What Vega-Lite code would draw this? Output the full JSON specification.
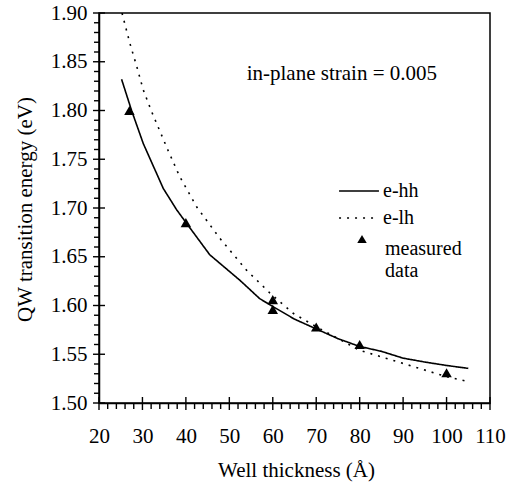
{
  "$schema": "https://vega.github.io/schema/vega-lite/v6.json",
  "width": 391,
  "height": 390,
  "autosize": {"type": "none"},
  "padding": {"left": 99, "top": 13, "right": 30, "bottom": 82},
  "background": "white",
  "config": {
    "view": {"stroke": "black", "strokeWidth": 1.5},
    "axis": {
      "domainColor": "black", "labelColor": "black", "titleColor": "black",
      "labelFont": "Liberation Serif", "titleFont": "Liberation Serif", "titleFontWeight": "normal",
      "labelFontSize": 21, "titleFontSize": 21, "grid": false, "domainWidth": 1.5
    },
    "legend": {"labelFont": "Liberation Serif", "labelColor": "black"},
    "text": {"font": "Liberation Serif"}
  },
  "datasets": {
    "curves": [
      {"series": "e-hh", "thickness": 25.2, "energy": 1.832},
      {"series": "e-hh", "thickness": 27.5, "energy": 1.800},
      {"series": "e-hh", "thickness": 30.2, "energy": 1.766},
      {"series": "e-hh", "thickness": 34.8, "energy": 1.720},
      {"series": "e-hh", "thickness": 37.9, "energy": 1.698},
      {"series": "e-hh", "thickness": 40.2, "energy": 1.684},
      {"series": "e-hh", "thickness": 45.5, "energy": 1.652},
      {"series": "e-hh", "thickness": 52.4, "energy": 1.626},
      {"series": "e-hh", "thickness": 57, "energy": 1.607},
      {"series": "e-hh", "thickness": 60, "energy": 1.599},
      {"series": "e-hh", "thickness": 65, "energy": 1.586},
      {"series": "e-hh", "thickness": 70, "energy": 1.576},
      {"series": "e-hh", "thickness": 75, "energy": 1.566},
      {"series": "e-hh", "thickness": 80, "energy": 1.558},
      {"series": "e-hh", "thickness": 85, "energy": 1.553},
      {"series": "e-hh", "thickness": 90, "energy": 1.546},
      {"series": "e-hh", "thickness": 95, "energy": 1.542},
      {"series": "e-hh", "thickness": 100, "energy": 1.5385},
      {"series": "e-hh", "thickness": 105, "energy": 1.5355},
      {"series": "e-lh", "thickness": 25.3, "energy": 1.900},
      {"series": "e-lh", "thickness": 27.1, "energy": 1.869},
      {"series": "e-lh", "thickness": 28.7, "energy": 1.845},
      {"series": "e-lh", "thickness": 30.2, "energy": 1.821},
      {"series": "e-lh", "thickness": 32.1, "energy": 1.799},
      {"series": "e-lh", "thickness": 34, "energy": 1.779},
      {"series": "e-lh", "thickness": 35.9, "energy": 1.759},
      {"series": "e-lh", "thickness": 38.6, "energy": 1.732},
      {"series": "e-lh", "thickness": 42.5, "energy": 1.701},
      {"series": "e-lh", "thickness": 47.8, "energy": 1.669},
      {"series": "e-lh", "thickness": 54, "energy": 1.636},
      {"series": "e-lh", "thickness": 59.3, "energy": 1.613},
      {"series": "e-lh", "thickness": 64.7, "energy": 1.592},
      {"series": "e-lh", "thickness": 69.3, "energy": 1.580},
      {"series": "e-lh", "thickness": 80, "energy": 1.554},
      {"series": "e-lh", "thickness": 86, "energy": 1.546},
      {"series": "e-lh", "thickness": 100, "energy": 1.527},
      {"series": "e-lh", "thickness": 105, "energy": 1.522}
    ],
    "measured": [
      {"kind": "measured data", "thickness": 27, "energy": 1.800},
      {"kind": "measured data", "thickness": 40, "energy": 1.685},
      {"kind": "measured data", "thickness": 60, "energy": 1.606},
      {"kind": "measured data", "thickness": 60, "energy": 1.596},
      {"kind": "measured data", "thickness": 70, "energy": 1.578},
      {"kind": "measured data", "thickness": 80, "energy": 1.560},
      {"kind": "measured data", "thickness": 100, "energy": 1.531}
    ],
    "xticks": [
      {"thickness": 20}, {"thickness": 22}, {"thickness": 24}, {"thickness": 26}, {"thickness": 28},
      {"thickness": 30}, {"thickness": 32}, {"thickness": 34}, {"thickness": 36}, {"thickness": 38},
      {"thickness": 40}, {"thickness": 42}, {"thickness": 44}, {"thickness": 46}, {"thickness": 48},
      {"thickness": 50}, {"thickness": 52}, {"thickness": 54}, {"thickness": 56}, {"thickness": 58},
      {"thickness": 60}, {"thickness": 62}, {"thickness": 64}, {"thickness": 66}, {"thickness": 68},
      {"thickness": 70}, {"thickness": 72}, {"thickness": 74}, {"thickness": 76}, {"thickness": 78},
      {"thickness": 80}, {"thickness": 82}, {"thickness": 84}, {"thickness": 86}, {"thickness": 88},
      {"thickness": 90}, {"thickness": 92}, {"thickness": 94}, {"thickness": 96}, {"thickness": 98},
      {"thickness": 100}, {"thickness": 102}, {"thickness": 104}, {"thickness": 106}, {"thickness": 108},
      {"thickness": 110}
    ],
    "yticks": [
      {"energy": 1.50}, {"energy": 1.51}, {"energy": 1.52}, {"energy": 1.53}, {"energy": 1.54},
      {"energy": 1.55}, {"energy": 1.56}, {"energy": 1.57}, {"energy": 1.58}, {"energy": 1.59},
      {"energy": 1.60}, {"energy": 1.61}, {"energy": 1.62}, {"energy": 1.63}, {"energy": 1.64},
      {"energy": 1.65}, {"energy": 1.66}, {"energy": 1.67}, {"energy": 1.68}, {"energy": 1.69},
      {"energy": 1.70}, {"energy": 1.71}, {"energy": 1.72}, {"energy": 1.73}, {"energy": 1.74},
      {"energy": 1.75}, {"energy": 1.76}, {"energy": 1.77}, {"energy": 1.78}, {"energy": 1.79},
      {"energy": 1.80}, {"energy": 1.81}, {"energy": 1.82}, {"energy": 1.83}, {"energy": 1.84},
      {"energy": 1.85}, {"energy": 1.86}, {"energy": 1.87}, {"energy": 1.88}, {"energy": 1.89},
      {"energy": 1.90}
    ]
  },
  "layer": [
    {
      "data": {"name": "curves"},
      "mark": {"type": "line", "color": "black", "strokeWidth": 1.6, "clip": true},
      "encoding": {
        "x": {
          "field": "thickness", "type": "quantitative",
          "scale": {"domain": [20, 110], "nice": false},
          "axis": {
            "orient": "bottom", "tickCount": 200,
            "values": [20,30,40,50,60,70,80,90,100,110],
            "format": "d",
            "ticks": false, "tickSize": 0, "labelPadding": 39, "labelBaseline": "alphabetic", "labelFlush": false, "labelOverlap": false,
            "title": "Well thickness (Å)", "titleX": 197, "titleY": 73, "titleBaseline": "alphabetic"
          }
        },
        "y": {
          "field": "energy", "type": "quantitative",
          "scale": {"domain": [1.5, 1.9], "nice": false},
          "axis": {
            "orient": "left", "tickCount": 200,
            "values": [1.5,1.55,1.6,1.65,1.7,1.75,1.8,1.85,1.9],
            "format": ".2f",
            "ticks": false, "tickSize": 0, "labelPadding": 12, "labelFlush": false, "labelOverlap": false,
            "title": "QW transition energy (eV)", "titleX": -74, "titleY": 196, "titleBaseline": "middle"
          }
        },
        "strokeDash": {
          "field": "series", "type": "nominal",
          "scale": {"domain": ["e-hh", "e-lh"], "range": [[1, 0], [2, 6]]},
          "legend": {
            "title": null, "orient": "none", "legendX": 244, "legendY": 162,
            "symbolType": "M-1.33,0H1.33", "symbolSize": 900, "symbolStrokeWidth": 1.6, "symbolStrokeColor": "black",
            "labelFont": "Liberation Serif", "labelFontSize": 20, "labelOffset": 8, "rowPadding": 1, "padding": 0
          }
        }
      }
    },
    {
      "data": {"name": "xticks"},
      "transform": [{"filter": "datum.thickness % 10 != 0"}],
      "mark": {"type": "rule", "color": "black", "strokeWidth": 1.4, "y2Offset": 6},
      "encoding": {
        "x": {"field": "thickness", "type": "quantitative"},
        "y": {"datum": 1.5, "type": "quantitative"},
        "y2": {"datum": 1.5}
      }
    },
    {
      "data": {"name": "xticks"},
      "transform": [{"filter": "datum.thickness % 10 == 0"}],
      "mark": {"type": "rule", "color": "black", "strokeWidth": 1.4, "yOffset": -6, "y2Offset": 7},
      "encoding": {
        "x": {"field": "thickness", "type": "quantitative"},
        "y": {"datum": 1.5, "type": "quantitative"},
        "y2": {"datum": 1.5}
      }
    },
    {
      "data": {"name": "yticks"},
      "transform": [{"filter": "round(datum.energy * 100) % 5 != 0"}],
      "mark": {"type": "rule", "color": "black", "strokeWidth": 1.4, "xOffset": -5},
      "encoding": {
        "y": {"field": "energy", "type": "quantitative"},
        "x": {"datum": 20, "type": "quantitative"},
        "x2": {"datum": 20}
      }
    },
    {
      "data": {"name": "yticks"},
      "transform": [{"filter": "round(datum.energy * 100) % 5 == 0"}],
      "mark": {"type": "rule", "color": "black", "strokeWidth": 1.4, "xOffset": -6, "x2Offset": 6},
      "encoding": {
        "y": {"field": "energy", "type": "quantitative"},
        "x": {"datum": 20, "type": "quantitative"},
        "x2": {"datum": 20}
      }
    },
    {
      "data": {"name": "measured"},
      "mark": {"type": "point", "filled": true, "color": "black", "opacity": 1, "size": 110},
      "encoding": {
        "x": {"field": "thickness", "type": "quantitative"},
        "y": {"field": "energy", "type": "quantitative"},
        "shape": {
          "field": "kind", "type": "nominal",
          "scale": {"domain": ["measured data"], "range": ["triangle-up"]},
          "legend": {
            "title": null, "orient": "none", "legendX": 253, "legendY": 216,
            "symbolSize": 90, "symbolFillColor": "black", "symbolStrokeColor": "black",
            "labelFont": "Liberation Serif", "labelFontSize": 20, "labelOffset": 13, "padding": 0, "labelBaseline": "top",
            "labelExpr": "['measured', 'data']"
          }
        }
      }
    },
    {
      "data": {"values": [{"note": "in-plane strain = 0.005"}]},
      "mark": {"type": "text", "font": "Liberation Serif", "fontSize": 21, "align": "left", "baseline": "alphabetic", "color": "black"},
      "encoding": {
        "x": {"datum": 54, "type": "quantitative"},
        "y": {"datum": 1.831, "type": "quantitative"},
        "text": {"field": "note", "type": "nominal"}
      }
    }
  ]
}
